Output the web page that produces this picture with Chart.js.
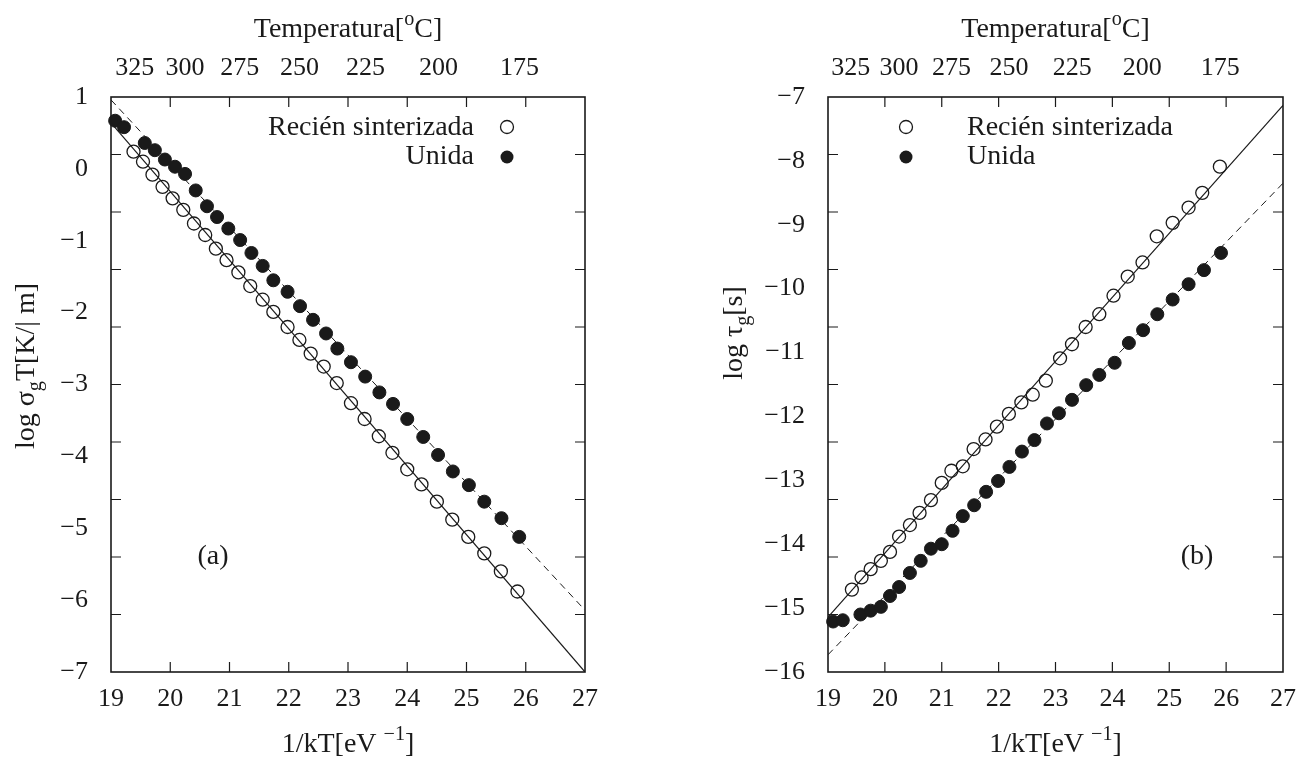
<!DOCTYPE html>
<html><head><meta charset="utf-8">
<script src="https://cdn.jsdelivr.net/npm/chart.js@4.4.1/dist/chart.umd.min.js"></script>
<style>
html,body{margin:0;padding:0;background:#fff;}
#wrap{position:relative;width:1308px;height:762px;overflow:hidden;}
.box{position:absolute;top:0;width:654px;height:762px;}
canvas{display:block;}
</style></head><body>
<div id="wrap">
<div class="box" style="left:0"><canvas id="ca" width="654" height="762"></canvas></div>
<div class="box" style="left:654px"><canvas id="cb" width="654" height="762"></canvas></div>
</div>
<script>
const FONT = "'Liberation Serif','Times New Roman',serif";
const INK = '#1a1a1a';

// shared axis data
const xTicks = [19, 20, 21, 22, 23, 24, 25, 26, 27];
const tempLabels = [325, 300, 275, 250, 225, 200, 175];
const kB = 8.617e-5; // eV/K, places the top temperature labels on the 1/kT axis
const legendNames = ['Recién sinterizada', 'Unida'];

// panel (a): log sigma_g T
const aYTicks = [1, 0, -1, -2, -3, -4, -5, -6, -7];
const aOpenX = [19.38,19.54,19.70,19.87,20.04,20.22,20.40,20.59,20.77,20.95,21.15,21.35,21.56,21.74,21.98,22.18,22.37,22.59,22.81,23.05,23.28,23.52,23.75,24.00,24.24,24.50,24.76,25.03,25.30,25.58,25.86];
const aOpenY = [0.24,0.10,-0.08,-0.25,-0.41,-0.57,-0.76,-0.92,-1.11,-1.27,-1.44,-1.63,-1.82,-1.99,-2.20,-2.38,-2.57,-2.75,-2.98,-3.26,-3.48,-3.72,-3.95,-4.18,-4.39,-4.63,-4.88,-5.12,-5.35,-5.60,-5.88];
const aFilledX = [19.07,19.22,19.57,19.74,19.91,20.08,20.25,20.43,20.62,20.79,20.98,21.18,21.37,21.56,21.74,21.98,22.19,22.41,22.63,22.82,23.05,23.29,23.53,23.76,24.00,24.27,24.52,24.77,25.04,25.30,25.59,25.89];
const aFilledY = [0.67,0.58,0.36,0.26,0.13,0.03,-0.07,-0.30,-0.52,-0.67,-0.83,-0.99,-1.17,-1.35,-1.55,-1.71,-1.91,-2.10,-2.29,-2.50,-2.69,-2.89,-3.11,-3.27,-3.48,-3.73,-3.98,-4.21,-4.40,-4.63,-4.86,-5.12];
const aSolidX = [19, 27], aSolidY = [0.64, -7.0];
const aDashX = [19, 27], aDashY = [0.96, -6.14];

// panel (b): log tau_g
const bYTicks = [-7, -8, -9, -10, -11, -12, -13, -14, -15, -16];
const bOpenX = [19.42,19.59,19.75,19.93,20.09,20.25,20.44,20.61,20.81,21.00,21.17,21.37,21.56,21.77,21.97,22.18,22.40,22.60,22.83,23.08,23.29,23.53,23.77,24.02,24.27,24.53,24.78,25.06,25.34,25.58,25.89];
const bOpenY = [-14.71,-14.52,-14.39,-14.26,-14.12,-13.88,-13.70,-13.51,-13.31,-13.04,-12.85,-12.78,-12.51,-12.36,-12.16,-11.96,-11.78,-11.66,-11.44,-11.09,-10.87,-10.60,-10.40,-10.11,-9.81,-9.59,-9.18,-8.97,-8.73,-8.50,-8.09];
const bFilledX = [19.09,19.26,19.57,19.75,19.93,20.09,20.25,20.44,20.63,20.81,21.00,21.19,21.37,21.57,21.78,21.99,22.19,22.41,22.63,22.85,23.06,23.29,23.54,23.77,24.04,24.29,24.54,24.79,25.06,25.34,25.61,25.91];
const bFilledY = [-15.21,-15.19,-15.10,-15.04,-14.98,-14.81,-14.67,-14.45,-14.26,-14.07,-14.00,-13.79,-13.56,-13.39,-13.18,-13.01,-12.79,-12.55,-12.37,-12.11,-11.95,-11.74,-11.51,-11.35,-11.16,-10.85,-10.65,-10.40,-10.17,-9.93,-9.71,-9.44];
const bSolidX = [19, 27], bSolidY = [-15.14, -7.13];
const bDashX = [19, 27], bDashY = [-15.73, -8.35];

const yTickMarkIntervals = 10;

function pts(xs, ys) { return xs.map((x, i) => ({ x: x, y: ys[i] })); }
function fmt(v) { return v < 0 ? '\u2212' + Math.abs(v) : String(v); }

function drawRich(ctx, parts, x, y, size, rot) {
  ctx.save();
  ctx.translate(x, y);
  if (rot) ctx.rotate(rot);
  ctx.fillStyle = INK; ctx.textBaseline = 'middle'; ctx.textAlign = 'left';
  let w = 0;
  const segs = parts.map(p => {
    const s = (p.sub || p.sup) ? size * 0.72 : size;
    ctx.font = s + 'px ' + FONT;
    const m = ctx.measureText(p.t).width;
    w += m;
    return { p: p, s: s, m: m };
  });
  let cx = -w / 2;
  segs.forEach(g => {
    ctx.font = g.s + 'px ' + FONT;
    const dy = g.p.sub ? size * 0.32 : (g.p.sup ? -size * 0.36 : 0);
    ctx.fillText(g.p.t, cx, dy);
    cx += g.m;
  });
  ctx.restore();
}

function decoPlugin(o) {
  return {
    id: 'deco',
    afterDraw(chart) {
      const ctx = chart.ctx, a = chart.chartArea;
      const xs = chart.scales.x, ys = chart.scales.y;
      ctx.save();
      ctx.strokeStyle = INK;
      ctx.lineWidth = 1.2;
      ctx.beginPath();
      xTicks.forEach(v => {
        const p = xs.getPixelForValue(v);
        if (p <= a.left + 1 || p >= a.right - 1) return;
        ctx.moveTo(p, a.bottom); ctx.lineTo(p, a.bottom - 10);
        ctx.moveTo(p, a.top); ctx.lineTo(p, a.top + 10);
      });
      for (let i = 1; i < yTickMarkIntervals; i++) {
        const v = ys.min + (ys.max - ys.min) * i / yTickMarkIntervals;
        const p = ys.getPixelForValue(v);
        ctx.moveTo(a.left, p); ctx.lineTo(a.left + 10, p);
        ctx.moveTo(a.right, p); ctx.lineTo(a.right - 10, p);
      }
      ctx.stroke();
      ctx.lineWidth = 1.6;
      ctx.strokeRect(a.left, a.top, a.right - a.left, a.bottom - a.top);
      ctx.restore();

      const cxm = (a.left + a.right) / 2;
      drawRich(ctx, [{ t: 'Temperatura[' }, { t: 'o', sup: true }, { t: 'C]' }], cxm, 30, 28);
      drawRich(ctx, [{ t: '1/kT[eV ' }, { t: '\u22121', sup: true }, { t: ']' }], cxm, 745, 28);
      drawRich(ctx, o.yTitle, o.yTitleX, o.yTitleY, 28, -Math.PI / 2);

      // legend
      ctx.save();
      ctx.font = '28px ' + FONT; ctx.fillStyle = INK; ctx.textBaseline = 'middle';
      ctx.textAlign = o.legAlign;
      ctx.fillText(legendNames[0], o.legTextX, 128);
      ctx.fillText(legendNames[1], o.legTextX, 157);
      ctx.lineWidth = 1.3; ctx.strokeStyle = INK;
      ctx.beginPath(); ctx.arc(o.legSymX, 127, 6.5, 0, Math.PI * 2); ctx.stroke();
      ctx.beginPath(); ctx.arc(o.legSymX, 157, 6.5, 0, Math.PI * 2); ctx.fill();
      ctx.textAlign = 'center';
      ctx.fillText(o.tag, o.tagX, 557);
      ctx.restore();
    }
  };
}

function makeChart(id, o) {
  const tempPos = tempLabels.map(t => 1 / (kB * (t + 273.15)));
  const tickFont = { family: FONT, size: 26 };
  return new Chart(document.getElementById(id), {
    type: 'scatter',
    data: {
      datasets: [
        { type: 'line', data: pts(o.solidX, o.solidY), borderColor: INK, borderWidth: 1.2, pointRadius: 0, fill: false },
        { type: 'line', data: pts(o.dashX, o.dashY), borderColor: INK, borderWidth: 1, borderDash: [7, 5], pointRadius: 0, fill: false },
        { label: legendNames[0], data: pts(o.openX, o.openY), pointRadius: 6.5, pointBorderWidth: 1.3, borderColor: INK, backgroundColor: 'rgba(255,255,255,0)', clip: false },
        { label: legendNames[1], data: pts(o.filledX, o.filledY), pointRadius: 6.5, pointBorderWidth: 1, borderColor: INK, backgroundColor: INK, clip: false }
      ]
    },
    options: {
      responsive: false, animation: false, devicePixelRatio: 1,
      layout: { padding: { left: 0, right: o.padRight, top: 0, bottom: 0 } },
      plugins: { legend: { display: false }, tooltip: { enabled: false } },
      scales: {
        x: {
          type: 'linear', position: 'bottom', min: 19, max: 27,
          grid: { display: false, drawTicks: false }, border: { display: false },
          afterBuildTicks(s) { s.ticks = xTicks.map(v => ({ value: v })); },
          ticks: { padding: 12, font: tickFont, color: INK, autoSkip: false, maxRotation: 0, callback: v => String(v) },
          afterFit(s) { s.height = 90; }
        },
        xt: {
          type: 'linear', position: 'top', min: 19, max: 27,
          grid: { display: false, drawTicks: false }, border: { display: false },
          afterBuildTicks(s) { s.ticks = tempPos.map(v => ({ value: v })); },
          ticks: { padding: 13, font: tickFont, color: INK, autoSkip: false, maxRotation: 0, callback: (v, i) => String(tempLabels[i]) },
          afterFit(s) { s.height = 97; }
        },
        y: {
          type: 'linear', position: 'left', min: o.yMin, max: o.yMax,
          grid: { display: false, drawTicks: false }, border: { display: false },
          afterBuildTicks(s) { s.ticks = o.yTicks.map(v => ({ value: v })); },
          ticks: { padding: 23, font: tickFont, color: INK, autoSkip: false, callback: v => fmt(v) },
          afterFit(s) { s.width = o.yWidth; }
        }
      }
    },
    plugins: [decoPlugin(o)]
  });
}

makeChart('ca', {
  openX: aOpenX, openY: aOpenY, filledX: aFilledX, filledY: aFilledY,
  solidX: aSolidX, solidY: aSolidY, dashX: aDashX, dashY: aDashY,
  yTicks: aYTicks, yMin: -7, yMax: 1, yWidth: 111, padRight: 69,
  yTitle: [{ t: 'log \u03c3' }, { t: 'g', sub: true }, { t: 'T[K/| m]' }], yTitleX: 27, yTitleY: 366,
  legAlign: 'right', legTextX: 474, legSymX: 507, tag: '(a)', tagX: 213
});
makeChart('cb', {
  openX: bOpenX, openY: bOpenY, filledX: bFilledX, filledY: bFilledY,
  solidX: bSolidX, solidY: bSolidY, dashX: bDashX, dashY: bDashY,
  yTicks: bYTicks, yMin: -16, yMax: -7, yWidth: 174, padRight: 24,
  yTitle: [{ t: 'log \u03c4' }, { t: 'g', sub: true }, { t: '[s]' }], yTitleX: 81, yTitleY: 333,
  legAlign: 'left', legTextX: 313, legSymX: 252, tag: '(b)', tagX: 543
});
</script>
</body></html>
